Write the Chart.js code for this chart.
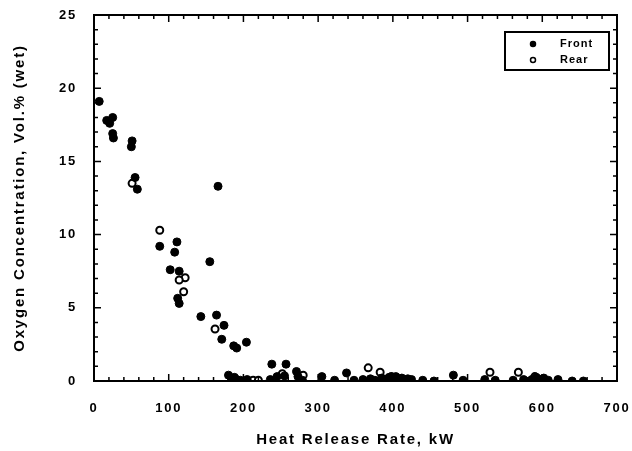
<!DOCTYPE html>
<html>
<head>
<meta charset="utf-8">
<script src="https://cdn.jsdelivr.net/npm/chart.js@4"></script>
<style>
  body { margin: 0; background: #fff; }
  #wrap { width: 632px; height: 451px; }
</style>
</head>
<body>
<div id="wrap"><canvas id="myChart" width="632" height="451"></canvas></div>
<script>
// heat release rate (kW) / oxygen vol.% pairs
const frontHRR = [7, 17, 21, 25, 25, 26, 51, 50, 55, 58, 166, 88, 111, 108, 155, 102, 114, 112, 114, 143,
  164, 174, 171, 187, 191, 204, 238, 257, 271, 180, 184, 188, 191, 196, 205, 236, 245, 255, 273, 279,
  305, 322, 338, 348, 360, 370, 376, 385, 390, 395, 400, 404, 408, 412, 416, 420, 425, 440, 455, 481,
  494, 523, 537, 561, 575, 586, 592, 597, 602, 608, 621, 640, 655];
const frontO2 = [19.1, 17.8, 17.6, 18.0, 16.9, 16.6, 16.4, 16.0, 13.9, 13.1, 13.3, 9.2, 9.5, 8.8, 8.15, 7.6, 7.5, 5.65, 5.3, 4.4,
  4.5, 3.8, 2.85, 2.4, 2.25, 2.65, 1.15, 1.15, 0.65, 0.4, 0.15, 0.25, 0.1, 0.05, 0.1, 0.1, 0.3, 0.35, 0.3, 0.05,
  0.3, 0.05, 0.55, 0.05, 0.1, 0.15, 0.05, 0.2, 0.1, 0.25, 0.15, 0.3, 0.1, 0.2, 0.05, 0.15, 0.1, 0.05, 0.0, 0.4,
  0.05, 0.1, 0.05, 0.05, 0.1, 0.1, 0.25, 0.1, 0.2, 0.05, 0.1, 0.0, 0.0];

const rearHRR = [51, 88, 122, 114, 120, 162, 213, 220, 252, 280, 367, 383, 398, 530, 568, 590];
const rearO2 = [13.5, 10.3, 7.05, 6.9, 6.1, 3.55, 0.05, 0.05, 0.5, 0.4, 0.9, 0.6, 0.3, 0.6, 0.6, 0.3];

const xTicks = [0, 100, 200, 300, 400, 500, 600, 700];
const yTicks = [0, 5, 10, 15, 20, 25];

function pairs(xs, ys) {
  return xs.map((x, i) => ({ x: x, y: ys[i] }));
}

// no extra room for edge labels, keep the plot box where the layout puts it
function noEdgePadding(scale) {
  scale.paddingLeft = 0;
  scale.paddingRight = 0;
  scale.paddingTop = 0;
  scale.paddingBottom = 0;
}

// frame + inward ticks on all four sides, and the boxed legend
const framePlugin = {
  id: 'frame',
  beforeDraw(chart) {
    chart.ctx.letterSpacing = '1.8px';
  },
  afterDraw(chart) {
    const { ctx, chartArea: a, scales } = chart;
    const xs = scales.x, ys = scales.y;
    ctx.save();
    ctx.strokeStyle = '#000';
    ctx.lineWidth = 2;
    ctx.strokeRect(a.left, a.top, a.right - a.left, a.bottom - a.top);
    ctx.lineWidth = 1.5;
    ctx.beginPath();
    for (let v = 0; v <= 700; v += 20) {
      const px = xs.getPixelForValue(v);
      const len = v % 100 === 0 ? 7 : 4;
      ctx.moveTo(px, a.bottom); ctx.lineTo(px, a.bottom - len);
      ctx.moveTo(px, a.top); ctx.lineTo(px, a.top + len);
    }
    for (let v = 0; v <= 25; v += 1) {
      const py = ys.getPixelForValue(v);
      const len = v % 5 === 0 ? 7 : 4;
      ctx.moveTo(a.left, py); ctx.lineTo(a.left + len, py);
      ctx.moveTo(a.right, py); ctx.lineTo(a.right - len, py);
    }
    ctx.stroke();

    // legend
    ctx.lineWidth = 2;
    ctx.strokeRect(505, 32, 104, 38);
    ctx.font = 'bold 11px "Liberation Sans", Arial, sans-serif';
    ctx.letterSpacing = '1px';
    ctx.textBaseline = 'middle';
    ctx.fillStyle = '#000';
    chart.data.datasets.forEach((ds, i) => {
      const y = 44 + i * 16;
      ctx.beginPath();
      ctx.arc(533, y, 2.5, 0, Math.PI * 2);
      ctx.fillStyle = ds.backgroundColor;
      ctx.fill();
      ctx.lineWidth = 1.5;
      ctx.strokeStyle = '#000';
      ctx.stroke();
      ctx.fillStyle = '#000';
      ctx.fillText(ds.label, 560, y);
    });
    ctx.restore();
  }
};

const ctx = document.getElementById('myChart');

new Chart(ctx, {
  type: 'scatter',
  data: {
    datasets: [{
      label: 'Front',
      data: pairs(frontHRR, frontO2),
      backgroundColor: '#000',
      borderColor: '#000',
      pointRadius: 4,
      borderWidth: 1
    }, {
      label: 'Rear',
      data: pairs(rearHRR, rearO2),
      backgroundColor: '#fff',
      borderColor: '#000',
      pointRadius: 3.5,
      borderWidth: 2
    }]
  },
  options: {
    responsive: false,
    animation: false,
    layout: { padding: { left: 0, top: 15, right: 15, bottom: 0 } },
    plugins: { legend: { display: false }, tooltip: { enabled: false } },
    scales: {
      x: {
        type: 'linear',
        min: 0,
        max: 700,
        afterFit(scale) { scale.height = 70; noEdgePadding(scale); },
        afterBuildTicks(scale) { scale.ticks = xTicks.map(v => ({ value: v })); },
        grid: { display: false, drawTicks: false },
        border: { display: false },
        ticks: {
          color: '#000',
          padding: 20,
          font: { family: '"Liberation Sans", Arial, sans-serif', size: 13, weight: 'bold' }
        },
        title: {
          display: true,
          text: 'Heat Release Rate, kW',
          color: '#000',
          padding: { top: 0, bottom: 2 },
          font: { family: '"Liberation Sans", Arial, sans-serif', size: 15, weight: 'bold' }
        }
      },
      y: {
        type: 'linear',
        min: 0,
        max: 25,
        afterFit(scale) { scale.width = 94; noEdgePadding(scale); },
        afterBuildTicks(scale) { scale.ticks = yTicks.map(v => ({ value: v })); },
        grid: { display: false, drawTicks: false },
        border: { display: false },
        ticks: {
          color: '#000',
          padding: 17,
          font: { family: '"Liberation Sans", Arial, sans-serif', size: 13, weight: 'bold' }
        },
        title: {
          display: true,
          text: 'Oxygen Concentration, Vol.% (wet)',
          color: '#000',
          padding: { top: 11, bottom: 0 },
          font: { family: '"Liberation Sans", Arial, sans-serif', size: 15, weight: 'bold' }
        }
      }
    }
  },
  plugins: [framePlugin]
});
</script>
</body>
</html>
